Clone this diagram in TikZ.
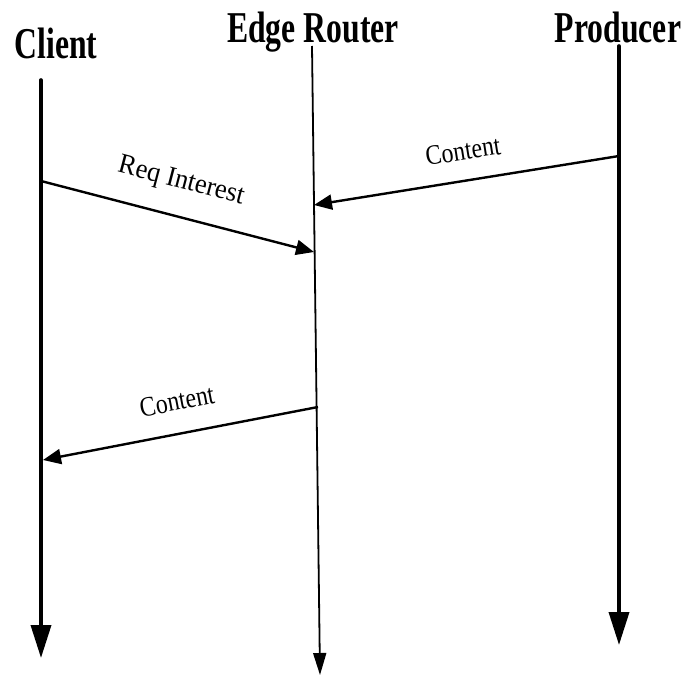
\documentclass[tikz,border=0pt]{standalone}
\usepackage{fontspec}
\usepackage{graphicx}
\setmainfont{Liberation Serif}
\usetikzlibrary{arrows.meta}
\tikzset{
  title/.style={anchor=base, inner sep=0pt, font=\fontsize{44}{46}\selectfont\bfseries},
  msglabel/.style={inner sep=0pt, font=\fontsize{28}{30}\selectfont},
  lifethick/.style={line width=3.6pt, line cap=round, -{Triangle[length=33pt,width=20pt]}},
  lifethin/.style={line width=1.8pt, -{Triangle[length=22pt,width=13pt]}},
  msg/.style={line width=2.4pt, -{Triangle[length=18pt,width=15pt]}}
}
\begin{document}
\begin{tikzpicture}[x=1pt,y=-1pt]
\useasboundingbox (0,0) rectangle (683,675);
% titles
\node[title] (client) at (56,58) {\scalebox{0.72}[1]{Client}};
\node[title] (router) at (313,42) {\scalebox{0.72}[1]{Edge Router}};
\node[title] (producer) at (618,42) {\scalebox{0.72}[1]{Producer}};
% lifeline ends
\coordinate (cT) at (41,80);
\coordinate (cB) at (41,658);
\coordinate (rT) at (312,46);
\coordinate (rB) at (320,675);
\coordinate (pT) at (619,46);
\coordinate (pB) at (619,645);
% message ends
\coordinate (m1s) at (41,181);
\coordinate (m1e) at (314,252);
\coordinate (m2s) at (619,156);
\coordinate (m2e) at (314,205);
\coordinate (m3s) at (318,407);
\coordinate (m3e) at (43,460);
% lifelines
\draw[lifethick] (cT) -- (cB);
\draw[lifethin] (rT) -- (rB);
\draw[lifethick] (pT) -- (pB);
% messages
\draw[msg] (m1s) -- (m1e);
\draw[msg] (m2s) -- (m2e);
\draw[msg] (m3s) -- (m3e);
% labels
\node[msglabel, rotate=-14.7] (l1) at (181,182) {\scalebox{0.95}[1]{Req Interest}};
\node[msglabel, rotate=9.1] (l2) at (463,151) {\scalebox{0.85}[1]{Content}};
\node[msglabel, rotate=10.9] (l3) at (177,401) {\scalebox{0.85}[1]{Content}};
\end{tikzpicture}
\end{document}
